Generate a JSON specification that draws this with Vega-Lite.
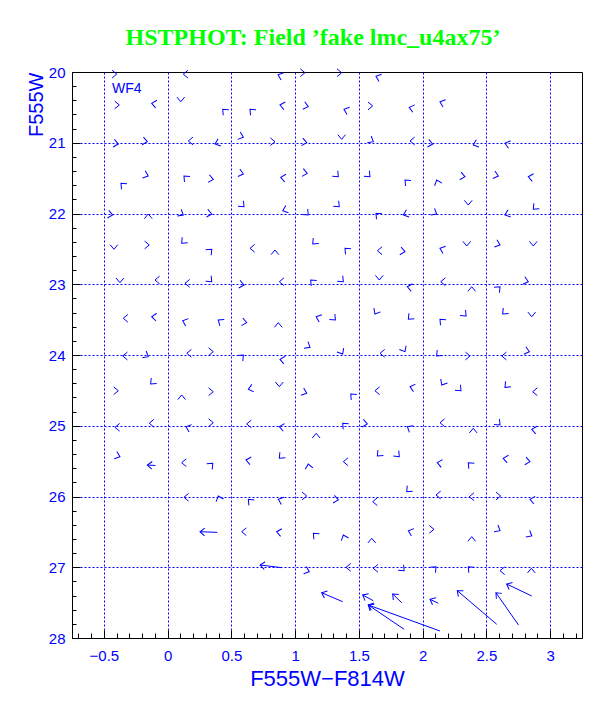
{
  "$schema": "https://vega.github.io/schema/vega-lite/v6.json",
  "width": 510,
  "height": 566,
  "autosize": "none",
  "padding": {"left": 72, "top": 72, "right": 30, "bottom": 71},
  "background": "white",
  "config": {"view": {"stroke": "black", "strokeWidth": 1}},
  "title": {
    "text": "HSTPHOT: Field ’fake lmc_u4ax75’",
    "font": "Liberation Serif",
    "fontSize": 24,
    "fontWeight": "bold",
    "color": "#00ff00",
    "anchor": "middle",
    "dx": -14,
    "offset": 15
  },
  "datasets": {
    "heads": [
      {"x": -0.399, "y": 20.03, "a": 0}, {"x": 0.123, "y": 20.03, "a": 180}, {"x": 0.866, "y": 20.04, "a": 200}, {"x": 1.077, "y": 20.01, "a": 0}, {"x": 1.365, "y": 20.01, "a": 0}, {"x": 1.634, "y": 20.06, "a": 200},
      {"x": -0.379, "y": 20.466, "a": 0}, {"x": -0.125, "y": 20.442, "a": 190}, {"x": 0.103, "y": 20.42, "a": 90}, {"x": 0.432, "y": 20.527, "a": 225}, {"x": 0.646, "y": 20.527, "a": 225}, {"x": 0.881, "y": 20.466, "a": 190}, {"x": 1.103, "y": 20.49, "a": 15}, {"x": 1.383, "y": 20.527, "a": 200}, {"x": 1.608, "y": 20.48, "a": 0}, {"x": 1.895, "y": 20.5, "a": 195}, {"x": 2.136, "y": 20.42, "a": 200},
      {"x": -0.387, "y": 21.018, "a": 10}, {"x": -0.159, "y": 20.985, "a": 10}, {"x": 0.162, "y": 20.975, "a": 180}, {"x": 0.372, "y": 21.018, "a": 160}, {"x": 0.594, "y": 20.923, "a": 20}, {"x": 0.842, "y": 20.985, "a": 0}, {"x": 1.091, "y": 20.999, "a": 10}, {"x": 1.365, "y": 20.951, "a": 90}, {"x": 1.613, "y": 20.985, "a": 30}, {"x": 1.901, "y": 20.975, "a": 180}, {"x": 2.079, "y": 21.018, "a": 10}, {"x": 2.397, "y": 21.032, "a": 160}, {"x": 2.646, "y": 21.008, "a": 195},
      {"x": -0.366, "y": 21.573, "a": 225}, {"x": -0.152, "y": 21.47, "a": 20}, {"x": 0.128, "y": 21.47, "a": 225}, {"x": 0.358, "y": 21.517, "a": 10}, {"x": 0.594, "y": 21.442, "a": 15}, {"x": 0.887, "y": 21.488, "a": 190}, {"x": 1.095, "y": 21.432, "a": 10}, {"x": 1.339, "y": 21.48, "a": 45}, {"x": 1.587, "y": 21.48, "a": 45}, {"x": 1.862, "y": 21.527, "a": 225}, {"x": 2.11, "y": 21.527, "a": 250}, {"x": 2.332, "y": 21.48, "a": 10}, {"x": 2.594, "y": 21.47, "a": 15}, {"x": 2.829, "y": 21.48, "a": 190},
      {"x": 0.599, "y": 21.904, "a": 45}, {"x": 0.903, "y": 21.96, "a": 160}, {"x": 1.346, "y": 21.904, "a": 45}, {"x": 2.358, "y": 21.88, "a": 90}, {"x": 2.868, "y": 21.94, "a": 135},
      {"x": -0.431, "y": 22.021, "a": 10}, {"x": -0.152, "y": 22.007, "a": 270}, {"x": 0.123, "y": 22.021, "a": 30}, {"x": 0.346, "y": 22.007, "a": 10}, {"x": 1.103, "y": 22.021, "a": 45}, {"x": 1.634, "y": 21.997, "a": 225}, {"x": 1.849, "y": 22.021, "a": 160}, {"x": 2.11, "y": 22.007, "a": 30}, {"x": 2.646, "y": 22.021, "a": 160},
      {"x": -0.421, "y": 22.506, "a": 90}, {"x": -0.144, "y": 22.445, "a": 0}, {"x": 0.11, "y": 22.421, "a": 135}, {"x": 0.346, "y": 22.506, "a": 315}, {"x": 0.646, "y": 22.492, "a": 180}, {"x": 0.842, "y": 22.516, "a": 270}, {"x": 1.138, "y": 22.431, "a": 135}, {"x": 1.391, "y": 22.492, "a": 225}, {"x": 1.645, "y": 22.526, "a": 180}, {"x": 1.862, "y": 22.54, "a": 10}, {"x": 2.136, "y": 22.492, "a": 200}, {"x": 2.346, "y": 22.459, "a": 90}, {"x": 2.607, "y": 22.445, "a": 20}, {"x": 2.868, "y": 22.459, "a": 90},
      {"x": -0.374, "y": 22.978, "a": 90}, {"x": -0.099, "y": 22.94, "a": 180}, {"x": 0.136, "y": 22.987, "a": 180}, {"x": 0.346, "y": 22.964, "a": 45}, {"x": 0.599, "y": 23.011, "a": 10}, {"x": 0.876, "y": 22.964, "a": 180}, {"x": 1.122, "y": 22.94, "a": 225}, {"x": 1.378, "y": 22.964, "a": 45}, {"x": 1.66, "y": 22.94, "a": 90}, {"x": 1.88, "y": 23.035, "a": 190}, {"x": 2.142, "y": 22.964, "a": 180}, {"x": 2.385, "y": 23.035, "a": 270}, {"x": 2.607, "y": 23.035, "a": 315}, {"x": 2.829, "y": 22.964, "a": 15},
      {"x": -0.348, "y": 23.481, "a": 180}, {"x": -0.125, "y": 23.459, "a": 185}, {"x": 0.118, "y": 23.515, "a": 200}, {"x": 0.397, "y": 23.505, "a": 215}, {"x": 0.62, "y": 23.543, "a": 10}, {"x": 0.868, "y": 23.543, "a": 270}, {"x": 1.165, "y": 23.459, "a": 200}, {"x": 1.316, "y": 23.505, "a": 45}, {"x": 1.626, "y": 23.42, "a": 120}, {"x": 1.888, "y": 23.495, "a": 135}, {"x": 2.136, "y": 23.495, "a": 225}, {"x": 2.341, "y": 23.449, "a": 45}, {"x": 2.628, "y": 23.42, "a": 135}, {"x": 2.856, "y": 23.459, "a": 90},
      {"x": -0.352, "y": 24.014, "a": 180}, {"x": -0.152, "y": 24.024, "a": 30}, {"x": 0.15, "y": 23.976, "a": 180}, {"x": 0.358, "y": 23.953, "a": 0}, {"x": 0.594, "y": 24.0, "a": 315}, {"x": 0.881, "y": 24.061, "a": 190}, {"x": 1.117, "y": 23.891, "a": 30}, {"x": 1.373, "y": 23.986, "a": 60}, {"x": 1.666, "y": 23.976, "a": 180}, {"x": 1.862, "y": 23.953, "a": 60}, {"x": 2.11, "y": 24.014, "a": 135}, {"x": 2.372, "y": 24.014, "a": 0}, {"x": 2.621, "y": 24.014, "a": 180}, {"x": 2.837, "y": 23.953, "a": 15},
      {"x": -0.387, "y": 24.505, "a": 0}, {"x": -0.133, "y": 24.41, "a": 135}, {"x": 0.11, "y": 24.565, "a": 270}, {"x": 0.358, "y": 24.519, "a": 0}, {"x": 0.633, "y": 24.485, "a": 165}, {"x": 0.876, "y": 24.448, "a": 90}, {"x": 1.091, "y": 24.541, "a": 20}, {"x": 1.436, "y": 24.551, "a": 225}, {"x": 1.626, "y": 24.505, "a": 180}, {"x": 1.901, "y": 24.448, "a": 195}, {"x": 2.15, "y": 24.424, "a": 120}, {"x": 2.301, "y": 24.505, "a": 45}, {"x": 2.646, "y": 24.457, "a": 135}, {"x": 2.863, "y": 24.519, "a": 180},
      {"x": -0.413, "y": 25.022, "a": 180}, {"x": -0.144, "y": 24.965, "a": 180}, {"x": 0.144, "y": 25.013, "a": 200}, {"x": 0.358, "y": 24.957, "a": 0}, {"x": 0.62, "y": 24.975, "a": 180}, {"x": 0.876, "y": 25.013, "a": 190}, {"x": 1.165, "y": 25.107, "a": 270}, {"x": 1.373, "y": 24.965, "a": 225}, {"x": 1.566, "y": 24.975, "a": 10}, {"x": 1.88, "y": 25.013, "a": 210}, {"x": 2.136, "y": 24.957, "a": 180}, {"x": 2.397, "y": 25.036, "a": 270}, {"x": 2.607, "y": 24.989, "a": 45}, {"x": 2.856, "y": 25.05, "a": 190},
      {"x": -0.374, "y": 25.437, "a": 20}, {"x": 0.11, "y": 25.522, "a": 180}, {"x": 0.354, "y": 25.531, "a": 315}, {"x": 0.615, "y": 25.484, "a": 190}, {"x": 0.876, "y": 25.46, "a": 135}, {"x": 1.103, "y": 25.541, "a": 260}, {"x": 1.378, "y": 25.508, "a": 180}, {"x": 1.645, "y": 25.427, "a": 135}, {"x": 1.817, "y": 25.437, "a": 45}, {"x": 2.115, "y": 25.522, "a": 190}, {"x": 2.358, "y": 25.522, "a": 225}, {"x": 2.632, "y": 25.46, "a": 190}, {"x": 2.842, "y": 25.508, "a": 10},
      {"x": 0.128, "y": 26.011, "a": 180}, {"x": 0.397, "y": 25.993, "a": 250}, {"x": 0.633, "y": 26.04, "a": 225}, {"x": 0.868, "y": 26.04, "a": 200}, {"x": 1.091, "y": 25.993, "a": 0}, {"x": 1.339, "y": 26.049, "a": 10}, {"x": 1.608, "y": 26.073, "a": 180}, {"x": 1.875, "y": 25.932, "a": 135}, {"x": 2.105, "y": 25.979, "a": 180}, {"x": 2.366, "y": 26.003, "a": 180}, {"x": 2.612, "y": 25.993, "a": 0}, {"x": 2.842, "y": 26.04, "a": 190},
      {"x": 0.581, "y": 26.498, "a": 180}, {"x": 0.855, "y": 26.498, "a": 190}, {"x": 1.143, "y": 26.52, "a": 225}, {"x": 1.378, "y": 26.544, "a": 250}, {"x": 1.601, "y": 26.591, "a": 270}, {"x": 1.888, "y": 26.483, "a": 200}, {"x": 2.089, "y": 26.464, "a": 0}, {"x": 2.385, "y": 26.568, "a": 270}, {"x": 2.607, "y": 26.483, "a": 30}, {"x": 2.856, "y": 26.558, "a": 30},
      {"x": 1.111, "y": 27.063, "a": 20}, {"x": 1.399, "y": 27.001, "a": 180}, {"x": 1.613, "y": 27.015, "a": 180}, {"x": 1.855, "y": 27.049, "a": 45}, {"x": 2.105, "y": 26.992, "a": 315}, {"x": 2.358, "y": 26.992, "a": 225}, {"x": 2.607, "y": 27.049, "a": 180}, {"x": 2.853, "y": 27.015, "a": 270}
    ],
    "shafts": [
      {"x": -0.159, "y": 25.555, "x2": -0.096, "y2": 25.562, "a": 184},
      {"x": 0.254, "y": 26.498, "x2": 0.39, "y2": 26.507, "a": 182},
      {"x": 0.725, "y": 26.968, "x2": 0.895, "y2": 27.006, "a": 187},
      {"x": 1.208, "y": 27.36, "x2": 1.373, "y2": 27.487, "a": 203},
      {"x": 1.53, "y": 27.392, "x2": 1.613, "y2": 27.473, "a": 208},
      {"x": 1.765, "y": 27.378, "x2": 1.836, "y2": 27.501, "a": 224},
      {"x": 2.058, "y": 27.453, "x2": 2.123, "y2": 27.509, "a": 206},
      {"x": 1.574, "y": 27.534, "x2": 1.855, "y2": 27.877, "a": 213},
      {"x": 1.574, "y": 27.534, "x2": 2.136, "y2": 27.901, "a": 200},
      {"x": 2.272, "y": 27.331, "x2": 2.581, "y2": 27.806, "a": 220},
      {"x": 2.575, "y": 27.36, "x2": 2.752, "y2": 27.816, "a": 226},
      {"x": 2.659, "y": 27.237, "x2": 2.856, "y2": 27.406, "a": 206}
    ],
    "labels": [
      {"x": -0.436, "y": 20.297, "text": "WF4"}
    ]
  },
  "resolve": {"axis": {"x": "independent", "y": "independent"}},
  "layer": [
    {
      "data": {"name": "heads"},
      "mark": {"type": "point", "opacity": 0},
      "encoding": {
        "x": {
          "field": "x", "type": "quantitative",
          "scale": {"domain": [-0.75, 3.25], "nice": false, "zero": false},
          "axis": {
            "orient": "bottom",
            "values": [-0.7, -0.6, -0.4, -0.3, -0.2, -0.1, 0.1, 0.2, 0.3, 0.4, 0.6, 0.7, 0.8, 0.9, 1.1, 1.2, 1.3, 1.4, 1.6, 1.7, 1.8, 1.9, 2.1, 2.2, 2.3, 2.4, 2.6, 2.7, 2.8, 2.9, 3.1, 3.2],
            "labels": false, "grid": false, "domain": false, "title": null,
            "tickSize": -5, "tickColor": "black", "tickWidth": 1
          }
        },
        "y": {
          "field": "y", "type": "quantitative",
          "scale": {"domain": [20, 28], "nice": false, "zero": false, "reverse": true},
          "axis": {
            "orient": "left",
            "values": [20.2, 20.4, 20.6, 20.8, 21.2, 21.4, 21.6, 21.8, 22.2, 22.4, 22.6, 22.8, 23.2, 23.4, 23.6, 23.8, 24.2, 24.4, 24.6, 24.8, 25.2, 25.4, 25.6, 25.8, 26.2, 26.4, 26.6, 26.8, 27.2, 27.4, 27.6, 27.8],
            "labels": false, "grid": false, "domain": false, "title": null,
            "tickSize": -4, "tickColor": "black", "tickWidth": 1
          }
        }
      }
    },
    {
      "data": {"name": "heads"},
      "mark": {"type": "point", "shape": "M-1.2,-1L0,0L-1.2,1", "size": 60, "filled": false, "stroke": "#0000ff", "strokeWidth": 1, "opacity": 1},
      "encoding": {
        "x": {
          "field": "x", "type": "quantitative",
          "axis": {
            "orient": "bottom",
            "values": [-0.5, 0, 0.5, 1, 1.5, 2, 2.5, 3],
            "format": "~g",
            "grid": true, "gridColor": "#0000ff", "gridDash": [2, 2], "gridWidth": 1,
            "domainColor": "black", "domainWidth": 1,
            "tickColor": "black", "tickSize": -8, "tickWidth": 1,
            "labelColor": "#0000ff", "labelFont": "Liberation Sans", "labelFontSize": 15, "labelPadding": 18,
            "labelFlush": false,
            "title": "F555W−F814W", "titleColor": "#0000ff", "titleFont": "Liberation Sans", "titleFontSize": 22, "titleFontWeight": "normal",
            "titleBaseline": "alphabetic", "titleY": 47
          }
        },
        "y": {
          "field": "y", "type": "quantitative",
          "axis": {
            "orient": "left",
            "values": [20, 21, 22, 23, 24, 25, 26, 27, 28],
            "format": "d",
            "grid": true, "gridColor": "#0000ff", "gridDash": [2, 2], "gridWidth": 1,
            "gridOpacity": {"condition": {"test": "datum.value == 20 || datum.value == 28", "value": 0}, "value": 1},
            "domainColor": "black", "domainWidth": 1,
            "tickColor": "black", "tickSize": -8, "tickWidth": 1,
            "labelColor": "#0000ff", "labelFont": "Liberation Sans", "labelFontSize": 15, "labelPadding": 15,
            "labelFlush": false,
            "title": "F555W", "titleColor": "#0000ff", "titleFont": "Liberation Sans", "titleFontSize": 20, "titleFontWeight": "normal",
            "titleAngle": -90, "titleAlign": "right", "titleBaseline": "alphabetic", "titleX": -30, "titleY": 0
          }
        },
        "angle": {"field": "a", "type": "quantitative", "scale": null}
      }
    },
    {
      "data": {"name": "shafts"},
      "mark": {"type": "rule", "color": "#0000ff", "strokeWidth": 1},
      "encoding": {
        "x": {"field": "x", "type": "quantitative", "axis": null},
        "y": {"field": "y", "type": "quantitative", "axis": null},
        "x2": {"field": "x2"},
        "y2": {"field": "y2"}
      }
    },
    {
      "data": {"name": "shafts"},
      "mark": {"type": "point", "shape": "M-1.2,-1L0,0L-1.2,1", "size": 60, "filled": false, "stroke": "#0000ff", "strokeWidth": 1, "opacity": 1},
      "encoding": {
        "x": {"field": "x", "type": "quantitative", "axis": null},
        "y": {"field": "y", "type": "quantitative", "axis": null},
        "angle": {"field": "a", "type": "quantitative", "scale": null}
      }
    },
    {
      "data": {"name": "labels"},
      "mark": {"type": "text", "align": "left", "baseline": "alphabetic", "font": "Liberation Sans", "fontSize": 14, "color": "#0000ff"},
      "encoding": {
        "x": {"field": "x", "type": "quantitative", "axis": null},
        "y": {"field": "y", "type": "quantitative", "axis": null},
        "text": {"field": "text"}
      }
    }
  ]
}
